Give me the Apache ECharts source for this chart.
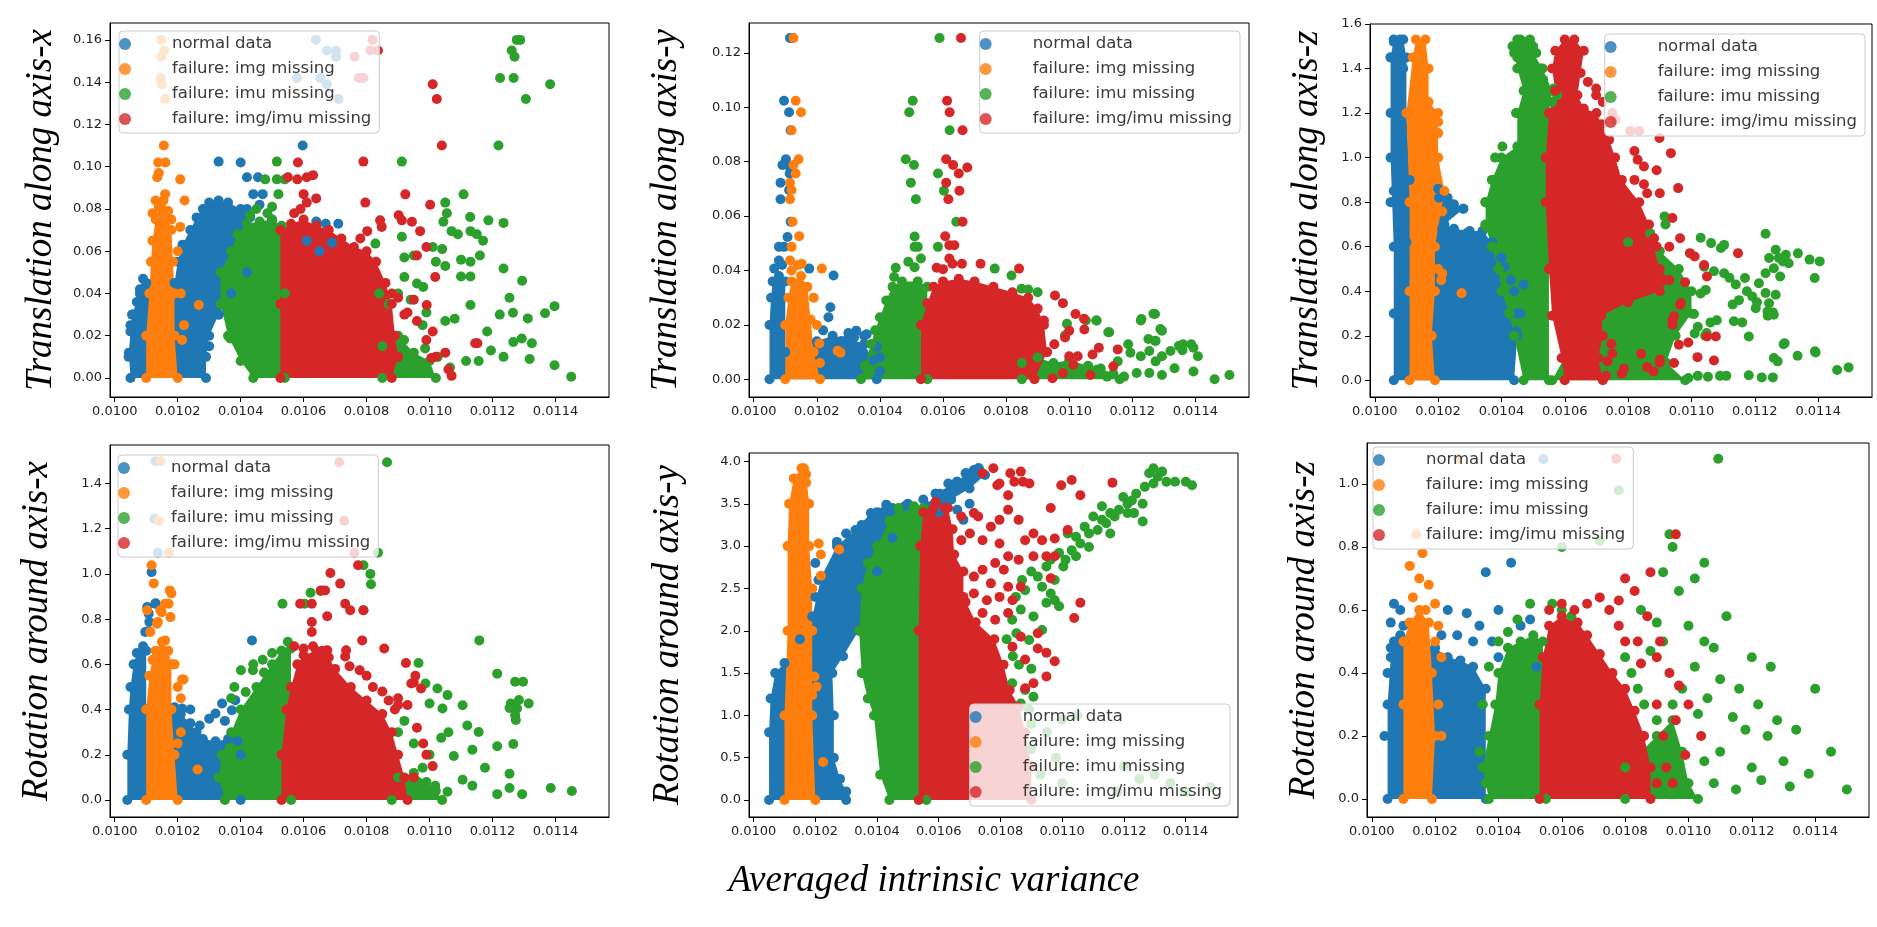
<!DOCTYPE html>
<html>
<head>
<meta charset="utf-8">
<script src="https://cdn.jsdelivr.net/npm/echarts@6/dist/echarts.min.js"></script>
<style>
html, body { margin: 0; padding: 0; background: #fff; }
#chart { width: 1877px; height: 927px; }
</style>
</head>
<body>
<div id="chart"></div>
<script>
var NAMES = ['normal data', 'failure: img missing', 'failure: imu missing', 'failure: img/imu missing'];
var COLORS = ['#1f77b4', '#ff7f0e', '#2ca02c', '#d62728'];
var X_TICKS = [0.0100, 0.0102, 0.0104, 0.0106, 0.0108, 0.0110, 0.0112, 0.0114];

// ---- translation along axis-x ----
var txTicks = [0, 0.02, 0.04, 0.06, 0.08, 0.10, 0.12, 0.14, 0.16];
var txNormalArea = [[[0.01005,0],[0.010045,0.012],[0.01005,0.022],[0.010055,0.03],[0.01007,0.036],[0.01008,0.042],[0.01009,0.047],[0.0101,0.045],[0.01019,0.045],[0.0102,0.055],[0.010215,0.063],[0.01024,0.07],[0.01026,0.076],[0.01028,0.08],[0.0103,0.083],[0.01033,0.084],[0.01036,0.083],[0.0104,0.08],[0.01043,0.076],[0.01042,0.05],[0.01037,0.04],[0.01033,0.03],[0.0103,0.02],[0.01029,0.01],[0.01029,0]]];
var txNormalPts = [[0.010044,0.01],[0.01005,0.025],[0.01006,0.03],[0.01008,0.04],[0.01033,0.1024],[0.0104,0.102],[0.01042,0.095],[0.010455,0.095],[0.01044,0.087],[0.01047,0.087],[0.01046,0.082],[0.01042,0.08],[0.01037,0.072],[0.0105,0.075],[0.010597,0.11],[0.01064,0.074],[0.01067,0.073],[0.01071,0.073],[0.01065,0.06],[0.01069,0.064],[0.01061,0.065],[0.0103,0.015],[0.01033,0.03],[0.010639,0.16],[0.010674,0.155],[0.010703,0.155],[0.010703,0.152],[0.010579,0.142],[0.010653,0.142],[0.010674,0.139],[0.010711,0.132]];
var txImgArea = [[[0.0101,0],[0.0101,0.02],[0.01011,0.04],[0.010115,0.055],[0.01012,0.065],[0.01013,0.075],[0.01014,0.081],[0.010155,0.084],[0.01017,0.079],[0.01018,0.07],[0.010185,0.055],[0.01019,0.04],[0.01019,0.02],[0.0102,0]]];
var txImgPts = [[0.010156,0.11],[0.010138,0.102],[0.010161,0.102],[0.010135,0.095],[0.01014,0.097],[0.010208,0.094],[0.01013,0.084],[0.01016,0.087],[0.010222,0.084],[0.010208,0.0715],[0.01012,0.078],[0.01018,0.075],[0.010267,0.0345],[0.010214,0.018],[0.01022,0.025],[0.01021,0.04],[0.0102,0.06],[0.010148,0.16],[0.010157,0.155],[0.010148,0.152],[0.010146,0.142],[0.01015,0.139],[0.01016,0.132]];
var txImuArea = [
  [[0.01044,0],[0.0104,0.008],[0.01036,0.02],[0.010336,0.035],[0.010336,0.05],[0.01037,0.06],[0.01039,0.068],[0.01042,0.073],[0.01046,0.074],[0.0105,0.075],[0.01053,0.072],[0.01054,0.04],[0.01054,0]],
  [[0.01085,0],[0.01085,0.015],[0.0109,0.02],[0.01095,0.012],[0.011,0.008],[0.01102,0]]
];
var txImuPts = [[0.010515,0.1024],[0.010478,0.094],[0.010515,0.094],[0.01054,0.094],[0.01052,0.087],[0.01045,0.08],[0.0105,0.081],[0.010485,0.078],[0.01043,0.077],[0.010912,0.1024],[0.011108,0.0869],[0.01105,0.083],[0.011055,0.078],[0.011129,0.0762],[0.011044,0.0739],[0.011187,0.0746],[0.011235,0.0734],[0.01107,0.0695],[0.01109,0.068],[0.01113,0.0695],[0.01115,0.068],[0.01117,0.065],[0.01101,0.062],[0.01104,0.061],[0.01092,0.057],[0.01095,0.058],[0.010912,0.0668],[0.010828,0.0636],[0.0111,0.056],[0.01113,0.055],[0.01116,0.058],[0.01102,0.055],[0.01105,0.053],[0.0111,0.048],[0.01113,0.048],[0.011235,0.0518],[0.01092,0.0478],[0.01096,0.0447],[0.01098,0.0431],[0.0109,0.04],[0.01094,0.037],[0.01099,0.031],[0.01105,0.027],[0.01108,0.028],[0.01113,0.0345],[0.01084,0.04],[0.01087,0.035],[0.011277,0.16],[0.011261,0.155],[0.01127,0.152],[0.011224,0.142],[0.011267,0.142],[0.011219,0.11],[0.011288,0.16],[0.011383,0.139],[0.011306,0.132],[0.011397,0.034],[0.011367,0.0306],[0.011312,0.0282],[0.011293,0.0187],[0.011325,0.0164],[0.010367,0.0187],[0.01145,0.0006],[0.011397,0.006],[0.011318,0.009],[0.011266,0.017],[0.011235,0.01],[0.011195,0.013],[0.011156,0.008],[0.011254,0.038],[0.011223,0.03],[0.011294,0.046],[0.011116,0.008],[0.011065,0.005],[0.011026,0.01],[0.010986,0.014],[0.010947,0.008],[0.010919,0.018],[0.010978,0.025],[0.011183,0.022],[0.011265,0.0309]];
var txBothArea = [[[0.010526,0],[0.010526,0.035],[0.010526,0.07],[0.01056,0.073],[0.0106,0.075],[0.01064,0.072],[0.01068,0.07],[0.01072,0.066],[0.01076,0.062],[0.0108,0.06],[0.01083,0.055],[0.01086,0.045],[0.01088,0.035],[0.01089,0.02],[0.0109,0.01],[0.01088,0]]];
var txBothPts = [[0.01101,0.139],[0.011023,0.132],[0.011039,0.11],[0.01079,0.1024],[0.010923,0.0869],[0.010796,0.083],[0.011002,0.082],[0.010902,0.077],[0.010912,0.0746],[0.010944,0.0739],[0.010843,0.0746],[0.010848,0.0715],[0.01097,0.0695],[0.01099,0.062],[0.01096,0.058],[0.010802,0.0695],[0.01078,0.066],[0.011018,0.0478],[0.010991,0.0345],[0.01095,0.037],[0.01093,0.031],[0.01088,0.04],[0.0109,0.038],[0.01092,0.03],[0.01096,0.027],[0.011145,0.0164],[0.010582,0.102],[0.01055,0.095],[0.01058,0.094],[0.01061,0.095],[0.01063,0.096],[0.0106,0.087],[0.01061,0.083],[0.01064,0.085],[0.01057,0.078],[0.01059,0.08],[0.01099,0.018],[0.01102,0.01],[0.01106,0.004],[0.01101,0.022],[0.01105,0.012],[0.011152,0.0164],[0.011006,0.0095],[0.01107,0.001],[0.010819,0.16],[0.010762,0.152],[0.010812,0.155],[0.010836,0.155],[0.010775,0.142],[0.01079,0.142]];

// ---- translation along axis-y ----
var tyTicks = [0, 0.02, 0.04, 0.06, 0.08, 0.10, 0.12];
var tyNormalArea = [[[0.01005,0],[0.01005,0.02],[0.010055,0.03],[0.01006,0.036],[0.01008,0.038],[0.0101,0.036],[0.0101,0.01],[0.0102,0.014],[0.01025,0.016],[0.0103,0.015],[0.01035,0.013],[0.01038,0.007],[0.01039,0]]];
var tyNormalPts = [[0.010115,0.1255],[0.010123,0.1255],[0.010096,0.1024],[0.010112,0.0982],[0.010117,0.0916],[0.010102,0.0809],[0.010091,0.0788],[0.010114,0.078],[0.010114,0.0757],[0.010085,0.0723],[0.010112,0.0696],[0.010085,0.0662],[0.010117,0.0579],[0.010107,0.0523],[0.01008,0.0487],[0.010096,0.0487],[0.01008,0.0437],[0.010065,0.0407],[0.01009,0.042],[0.010176,0.0407],[0.010253,0.0382],[0.010243,0.0265],[0.010237,0.0228],[0.010278,0.0141],[0.010325,0.0179],[0.010358,0.0166],[0.010318,0.0154],[0.01022,0.018],[0.0103,0.017],[0.01035,0.016],[0.01039,0.012],[0.0104,0.008],[0.0104,0.003]];
var tyImgArea = [[[0.0101,0],[0.0101,0.02],[0.01011,0.03],[0.01012,0.036],[0.01015,0.038],[0.01017,0.034],[0.01018,0.022],[0.01019,0.01],[0.01021,0]]];
var tyImgPts = [[0.010126,0.1255],[0.010133,0.1024],[0.01015,0.0982],[0.01012,0.0916],[0.010142,0.0809],[0.010126,0.0788],[0.010133,0.0757],[0.010115,0.0723],[0.01012,0.0696],[0.010115,0.0662],[0.010123,0.0579],[0.010144,0.0526],[0.01012,0.0487],[0.010115,0.0437],[0.010152,0.0425],[0.010216,0.0407],[0.010208,0.0132],[0.010266,0.0105],[0.010275,0.0098],[0.01012,0.04],[0.01014,0.042],[0.01019,0.03],[0.0102,0.02],[0.01021,0.006]];
var tyImuArea = [
  [[0.01034,0],[0.010352,0.005],[0.010372,0.013],[0.010385,0.018],[0.0104,0.0228],[0.01042,0.029],[0.01044,0.034],[0.01047,0.036],[0.01052,0.036],[0.01055,0.034],[0.01055,0]],
  [[0.01085,0],[0.01085,0.006],[0.0109,0.008],[0.01095,0.006],[0.011,0.007],[0.01106,0.005],[0.0111,0.004],[0.01114,0.002],[0.01116,0]]
];
var tyImuPts = [[0.010589,0.1255],[0.010504,0.1024],[0.010493,0.0982],[0.010621,0.0916],[0.010482,0.0809],[0.010508,0.0788],[0.010498,0.0723],[0.010514,0.0662],[0.010584,0.0757],[0.010603,0.0693],[0.010642,0.0579],[0.01051,0.0525],[0.01051,0.0487],[0.01052,0.0487],[0.010584,0.0487],[0.01045,0.041],[0.010445,0.0376],[0.01049,0.0432],[0.01051,0.0412],[0.01053,0.0444],[0.010764,0.0407],[0.010817,0.0382],[0.010849,0.0333],[0.01087,0.033],[0.0109,0.032],[0.011086,0.0216],[0.011124,0.0173],[0.011229,0.0222],[0.011272,0.024],[0.011289,0.0185],[0.011251,0.0148],[0.011272,0.0142],[0.011387,0.0129],[0.011359,0.0107],[0.010987,0.0162],[0.010993,0.0204],[0.011053,0.0216],[0.011087,0.0216],[0.011127,0.0173],[0.011194,0.0098],[0.011227,0.0085],[0.011254,0.0104],[0.011274,0.0066],[0.011294,0.0085],[0.011321,0.0104],[0.011348,0.0123],[0.011361,0.0129],[0.011394,0.0116],[0.011408,0.0085],[0.011334,0.0041],[0.011394,0.0029],[0.011461,0],[0.011508,0.0016],[0.011227,0.0216],[0.011267,0.0241],[0.011294,0.0179],[0.011274,0.0141],[0.011187,0.0129],[0.011154,0.0066],[0.011174,0.001],[0.011214,0.0023],[0.011254,0.0023],[0.011294,0.0016],[0.011087,0.0035],[0.01112,0.001]];
var tyBothArea = [[[0.01053,0],[0.01053,0.02],[0.01055,0.028],[0.01057,0.034],[0.0106,0.036],[0.01065,0.037],[0.0107,0.036],[0.01076,0.034],[0.01082,0.032],[0.01087,0.03],[0.0109,0.026],[0.01092,0.02],[0.01093,0.01],[0.01089,0]]];
var tyBothPts = [[0.010657,0.1255],[0.010613,0.1024],[0.010621,0.0982],[0.010662,0.0916],[0.01061,0.0809],[0.010632,0.0788],[0.01065,0.0757],[0.010677,0.0779],[0.01061,0.0723],[0.010652,0.0693],[0.010617,0.0662],[0.010662,0.0579],[0.010607,0.0526],[0.01062,0.0493],[0.010636,0.0493],[0.010719,0.0425],[0.010841,0.0407],[0.01058,0.041],[0.0106,0.0405],[0.01062,0.0444],[0.01063,0.0425],[0.01066,0.0425],[0.010955,0.0308],[0.01098,0.028],[0.01102,0.024],[0.011048,0.0183],[0.01114,0.0048],[0.010947,0.0004],[0.01098,0.0023],[0.0110,0.0085],[0.011027,0.0085],[0.011013,0.0054],[0.011047,0.0223],[0.011074,0.0091],[0.011094,0.0116],[0.011154,0.011],[0.011067,0.0016],[0.010953,0.0129],[0.010987,0.0154],[0.0110,0.0179],[0.010906,0.0173],[0.01092,0.0216]];

// ---- translation along axis-z ----
var tzTicks = [0, 0.2, 0.4, 0.6, 0.8, 1.0, 1.2, 1.4, 1.6];
var tzNormalArea = [[[0.01006,0],[0.01006,0.3],[0.01006,0.6],[0.010055,0.8],[0.01005,1.0],[0.01005,1.2],[0.01005,1.45],[0.01006,1.53],[0.01009,1.53],[0.0101,1.45],[0.0101,1.2],[0.01011,0.9],[0.0102,0.86],[0.01023,0.82],[0.01025,0.79],[0.01028,0.77],[0.01022,0.7],[0.01025,0.68],[0.0103,0.67],[0.01034,0.67],[0.01037,0.62],[0.0104,0.55],[0.01043,0.45],[0.01045,0.3],[0.01045,0.2],[0.01044,0]]];
var tzNormalPts = [[0.010203,0.82],[0.010247,0.79],[0.010279,0.77],[0.010213,0.68],[0.01025,0.67],[0.01029,0.66],[0.010371,0.616],[0.0104,0.55],[0.01041,0.51],[0.010355,0.25],[0.010386,0.23],[0.010448,0.22],[0.01043,0.19],[0.01046,0.3],[0.01044,0.4],[0.01047,0.43],[0.01006,1.52],[0.01008,1.53],[0.01005,1.45],[0.01009,1.4],[0.01005,0.8],[0.01006,0.85],[0.0101,0.62]];
var tzImgArea = [[[0.01011,0],[0.01011,0.4],[0.01011,0.8],[0.0101,1.2],[0.01012,1.45],[0.01013,1.53],[0.01016,1.53],[0.01017,1.4],[0.01017,1.25],[0.0102,1.2],[0.0102,1.0],[0.01022,0.85],[0.01019,0.6],[0.01019,0.4],[0.01018,0.2],[0.01019,0]]];
var tzImgPts = [[0.010213,0.758],[0.010274,0.391],[0.010213,0.48],[0.0102,1.16],[0.0102,1.11],[0.0102,0.5],[0.01021,0.45]];
var tzImuArea = [
  [[0.01047,0],[0.01044,0.2],[0.010425,0.3],[0.0104,0.4],[0.01039,0.5],[0.01037,0.6],[0.01035,0.69],[0.01035,0.8],[0.01037,0.9],[0.0104,1.0],[0.01045,1.05],[0.01045,1.2],[0.01047,1.3],[0.01045,1.4],[0.01044,1.47],[0.01045,1.53],[0.01049,1.53],[0.0105,1.47],[0.01053,1.4],[0.01056,1.3],[0.01055,1.2],[0.01055,0]],
  [[0.01056,0],[0.0108,0.62],[0.01087,0.66],[0.0109,0.58],[0.01096,0.5],[0.011,0.4],[0.011,0.3],[0.01095,0.2],[0.01092,0.08],[0.01098,0]]
];
var tzImuPts = [[0.010435,1.5],[0.01046,1.53],[0.01048,1.52],[0.0105,1.5],[0.01051,1.47],[0.01045,1.45],[0.010473,1.398],[0.01052,1.4],[0.010532,1.35],[0.010565,1.31],[0.010576,1.28],[0.01056,1.25],[0.010446,1.2],[0.010403,1.05],[0.01038,1.0],[0.010371,0.9],[0.010349,0.8],[0.010349,0.7],[0.010371,0.6],[0.010392,0.5],[0.010403,0.4],[0.010425,0.3],[0.010441,0.2],[0.010915,0.736],[0.010918,0.7],[0.011029,0.64],[0.011062,0.616],[0.011093,0.594],[0.011103,0.608],[0.011234,0.658],[0.011266,0.586],[0.011276,0.549],[0.011298,0.564],[0.011307,0.526],[0.011336,0.57],[0.011289,0.534],[0.011373,0.542],[0.011405,0.534],[0.011389,0.459],[0.011245,0.549],[0.011234,0.481],[0.01126,0.503],[0.01128,0.466],[0.011169,0.459],[0.011213,0.436],[0.011175,0.4],[0.011103,0.481],[0.01104,0.51],[0.011071,0.49],[0.01112,0.46],[0.01114,0.43],[0.011029,0.39],[0.011045,0.406],[0.011234,0.392],[0.011266,0.384],[0.011245,0.346],[0.011192,0.376],[0.01115,0.36],[0.01113,0.34],[0.011203,0.324],[0.01124,0.309],[0.01126,0.294],[0.011181,0.197],[0.011048,0.212],[0.01101,0.21],[0.01102,0.24],[0.01108,0.27],[0.011294,0.166],[0.01139,0.13],[0.011008,0.298],[0.01106,0.26],[0.011043,0.2],[0.011134,0.265],[0.01116,0.26],[0.011241,0.29],[0.011257,0.305],[0.011207,0.35],[0.011291,0.162],[0.011335,0.11],[0.01126,0.1],[0.011272,0.085],[0.011392,0.125],[0.01146,0.046],[0.011496,0.058],[0.011052,0.016],[0.01109,0.02],[0.01111,0.02],[0.011181,0.023],[0.011222,0.013],[0.011257,0.013],[0.01099,0.01],[0.01102,0.02]];
var tzBothArea = [[[0.0106,0],[0.01059,0.1],[0.01056,0.29],[0.01055,0.5],[0.01054,0.8],[0.01054,1.0],[0.01055,1.2],[0.01057,1.3],[0.01056,1.4],[0.01057,1.48],[0.0106,1.53],[0.01063,1.53],[0.01066,1.48],[0.01065,1.38],[0.01064,1.28],[0.01066,1.22],[0.0107,1.2],[0.010716,1.15],[0.01074,1.08],[0.010759,1.0],[0.01078,0.9],[0.010835,0.8],[0.010866,0.7],[0.01088,0.6],[0.0109,0.5],[0.01093,0.45],[0.0109,0.4],[0.0108,0.35],[0.010715,0.29],[0.01072,0.2],[0.010705,0.1],[0.01072,0]]];
var tzBothPts = [[0.010673,1.34],[0.010699,1.31],[0.010699,1.28],[0.01072,1.25],[0.01075,1.2],[0.01076,1.17],[0.010807,1.12],[0.010835,1.12],[0.010899,1.088],[0.010935,1.02],[0.01082,1.03],[0.01083,0.99],[0.01085,0.96],[0.01089,0.943],[0.01082,0.9],[0.01085,0.88],[0.01086,0.84],[0.0109,0.84],[0.010958,0.863],[0.01094,0.729],[0.011147,0.571],[0.010882,0.638],[0.01089,0.6],[0.01093,0.6],[0.010964,0.638],[0.010995,0.571],[0.01101,0.556],[0.01104,0.518],[0.011049,0.466],[0.01098,0.44],[0.010964,0.339],[0.01094,0.271],[0.011077,0.197],[0.010967,0.347],[0.010945,0.288],[0.01094,0.25],[0.011049,0.197],[0.01096,0.16],[0.01099,0.17],[0.011019,0.104],[0.011071,0.089],[0.0109,0.092],[0.0109,0.08],[0.010841,0.119],[0.010747,0.164],[0.01075,0.12],[0.010735,0.086],[0.010787,0.053],[0.01086,0.06],[0.01088,0.04],[0.010945,0.078],[0.01073,0.02],[0.01078,0.03]];

// ---- rotation around axis-x ----
var rxTicks = [0, 0.2, 0.4, 0.6, 0.8, 1.0, 1.2, 1.4];
var rxNormalArea = [[[0.01004,0],[0.01004,0.2],[0.010045,0.4],[0.01005,0.5],[0.01006,0.6],[0.01007,0.65],[0.01009,0.68],[0.0101,0.66],[0.0101,0.4],[0.01019,0.41],[0.01021,0.38],[0.01024,0.34],[0.01026,0.3],[0.01028,0.27],[0.01032,0.26],[0.01036,0.27],[0.01039,0.26],[0.0104,0.2],[0.0104,0]]];
var rxNormalPts = [[0.010103,0.854],[0.010108,0.824],[0.010129,0.868],[0.010097,0.743],[0.010436,0.706],[0.010117,1.008],[0.01013,0.87],[0.01011,0.787],[0.010106,0.746],[0.01032,0.383],[0.010341,0.427],[0.010372,0.397],[0.010383,0.441],[0.010214,0.405],[0.01024,0.4],[0.01027,0.33],[0.0103,0.36],[0.01035,0.35],[0.01013,1.498],[0.010126,1.244],[0.010137,1.094]];
var rxImgArea = [[[0.0101,0],[0.0101,0.4],[0.01011,0.55],[0.01012,0.62],[0.01013,0.66],[0.01015,0.7],[0.01017,0.66],[0.01018,0.6],[0.01018,0.4],[0.01019,0.2],[0.0102,0]]];
var rxImgPts = [[0.01016,0.706],[0.010113,0.743],[0.010134,0.78],[0.01016,0.868],[0.010177,0.809],[0.010145,0.839],[0.010103,0.839],[0.010171,0.868],[0.010214,0.533],[0.010263,0.135],[0.010117,1.038],[0.010124,0.958],[0.010149,0.831],[0.010137,0.787],[0.010175,0.927],[0.01018,0.914],[0.010219,0.533],[0.01019,0.6],[0.0102,0.5],[0.01021,0.45],[0.01021,0.3],[0.0102,0.25],[0.010146,1.498],[0.01014,1.235],[0.010172,1.094]];
var rxImuArea = [
  [[0.01035,0],[0.01033,0.1],[0.01034,0.2],[0.01037,0.3],[0.0104,0.4],[0.01045,0.5],[0.0105,0.6],[0.01053,0.66],[0.01056,0.67],[0.01056,0]],
  [[0.01088,0],[0.0109,0.1],[0.01095,0.12],[0.01099,0.08],[0.01102,0.04],[0.01104,0]]
];
var rxImuPts = [[0.010865,1.494],[0.010836,1.094],[0.01079,1.038],[0.010812,1.0],[0.010814,0.954],[0.01079,0.839],[0.010622,0.917],[0.010654,0.924],[0.010603,0.868],[0.010533,0.868],[0.010401,0.574],[0.010439,0.574],[0.010416,0.478],[0.010474,0.564],[0.010502,0.53],[0.010965,0.606],[0.011158,0.706],[0.011215,0.559],[0.011272,0.523],[0.011297,0.523],[0.010987,0.515],[0.011025,0.493],[0.011057,0.464],[0.011,0.427],[0.011041,0.405],[0.011105,0.419],[0.011258,0.427],[0.011284,0.442],[0.011315,0.427],[0.011272,0.375],[0.011278,0.405],[0.011452,0.04],[0.011385,0.053],[0.011294,0.026],[0.011254,0.053],[0.011215,0.026],[0.011254,0.116],[0.011266,0.248],[0.011274,0.354],[0.011254,0.407],[0.011176,0.143],[0.011136,0.063],[0.011105,0.09],[0.011057,0.037],[0.011018,0.063],[0.011077,0.195],[0.011037,0.275],[0.010978,0.143],[0.011156,0.301],[0.011215,0.238],[0.011136,0.222],[0.0110,0.2],[0.01095,0.25],[0.01106,0.3],[0.01112,0.33],[0.0109,0.3],[0.01092,0.35],[0.01044,0.6],[0.01047,0.62],[0.0105,0.65],[0.01053,0.66],[0.01055,0.7],[0.01037,0.45],[0.01038,0.5]];
var rxBothArea = [[[0.01053,0],[0.01053,0.2],[0.010545,0.4],[0.01056,0.5],[0.01058,0.6],[0.0106,0.64],[0.01064,0.66],[0.01068,0.63],[0.0107,0.58],[0.01075,0.5],[0.0108,0.44],[0.01085,0.38],[0.01088,0.3],[0.0109,0.2],[0.01092,0.1],[0.01093,0]]];
var rxBothPts = [[0.010713,1.494],[0.010729,1.235],[0.010761,1.094],[0.010773,1.038],[0.010685,1.004],[0.010716,0.957],[0.010655,0.927],[0.010668,0.927],[0.010589,0.868],[0.010626,0.868],[0.010732,0.868],[0.010748,0.839],[0.01079,0.839],[0.010626,0.787],[0.010675,0.813],[0.010626,0.743],[0.010786,0.706],[0.010856,0.67],[0.010925,0.606],[0.010942,0.515],[0.010973,0.493],[0.01095,0.52],[0.010955,0.55],[0.0109,0.45],[0.0109,0.42],[0.01093,0.42],[0.01087,0.44],[0.01089,0.4],[0.010778,0.574],[0.010732,0.635],[0.010746,0.592],[0.010675,0.662],[0.010735,0.662],[0.01057,0.68],[0.0106,0.67],[0.01063,0.68],[0.01066,0.66],[0.0108,0.55],[0.01082,0.5],[0.01085,0.48],[0.01096,0.32],[0.01098,0.25],[0.01099,0.2],[0.01101,0.15],[0.01095,0.1]];

// ---- rotation around axis-y ----
var ryTicks = [0, 0.5, 1.0, 1.5, 2.0, 2.5, 3.0, 3.5, 4.0];
var ryNormalArea = [[[0.01005,0],[0.01005,0.8],[0.010055,1.2],[0.01007,1.5],[0.0101,1.62],[0.01015,1.9],[0.01019,2.17],[0.01022,2.64],[0.01027,3.0],[0.01033,3.19],[0.01038,3.39],[0.01043,3.49],[0.01049,3.47],[0.01056,3.47],[0.01059,3.62],[0.01066,3.76],[0.01069,3.86],[0.01073,3.92],[0.01075,3.84],[0.0107,3.68],[0.01064,3.55],[0.0106,3.4],[0.01045,3.1],[0.0104,2.7],[0.01034,2.0],[0.01029,1.7],[0.010255,1.5],[0.01026,1.0],[0.01026,0.5],[0.01028,0.25],[0.0103,0.1],[0.0103,0]]];
var ryNormalPts = [[0.010563,3.47],[0.01059,3.62],[0.010604,3.62],[0.010631,3.74],[0.010659,3.76],[0.010687,3.86],[0.010714,3.9],[0.010728,3.92],[0.01066,3.43],[0.01068,3.31],[0.0107,3.5],[0.01064,3.55],[0.01061,3.5],[0.01055,3.55],[0.0105,3.5],[0.01045,3.45],[0.0104,3.4],[0.01035,3.25],[0.0103,3.15],[0.01027,3.05],[0.0102,2.8],[0.01021,2.6],[0.0102,2.4]];
var ryImgArea = [[[0.0101,0],[0.0101,1.0],[0.01011,2.0],[0.01011,3.0],[0.010115,3.5],[0.01013,3.8],[0.010155,3.92],[0.01017,3.85],[0.01018,3.5],[0.01018,3.0],[0.01019,2.5],[0.01019,2.0],[0.01019,1.0],[0.0102,0]]];
var ryImgPts = [[0.010163,3.92],[0.01015,3.75],[0.01017,3.75],[0.010211,3.03],[0.010218,2.9],[0.010277,2.96],[0.010218,2.65],[0.010197,1.46],[0.010204,1.34],[0.01019,1.24],[0.010225,0.45]];
var ryImuArea = [[[0.01044,0],[0.01041,0.3],[0.01039,1.0],[0.01037,1.2],[0.01035,1.5],[0.010342,2.0],[0.01035,2.5],[0.01037,2.8],[0.0104,3.0],[0.01044,3.3],[0.01047,3.45],[0.01052,3.47],[0.01055,3.45],[0.01056,0]]];
var ryImuPts = [[0.01099,2.92],[0.011004,2.76],[0.010963,2.84],[0.010949,2.76],[0.010976,2.6],[0.011031,2.95],[0.011018,3.15],[0.011045,3.11],[0.011073,3.23],[0.011101,3.35],[0.011129,3.31],[0.011156,3.39],[0.011184,3.43],[0.011212,3.39],[0.011226,3.54],[0.01124,3.62],[0.011261,3.5],[0.011261,3.29],[0.011198,3.58],[0.011282,3.86],[0.011296,3.92],[0.01131,3.82],[0.011324,3.88],[0.011338,3.76],[0.011296,3.74],[0.011268,3.7],[0.011366,3.76],[0.011401,3.76],[0.011421,3.72],[0.011087,3.15],[0.011115,3.19],[0.011143,3.27],[0.01117,3.35],[0.011059,3.03],[0.011087,2.99],[0.011011,2.84],[0.011045,2.88],[0.011129,3.47],[0.011156,3.15],[0.011212,3.5],[0.011233,3.39],[0.01088,2.48],[0.010935,2.52],[0.010963,2.44],[0.010976,2.36],[0.01099,2.29],[0.010921,2.64],[0.010949,2.33],[0.010907,2.17],[0.010866,2.25],[0.010838,2.13],[0.010852,1.97],[0.010893,1.89],[0.010935,2.01],[0.010838,1.38],[0.01088,1.3],[0.010907,1.22],[0.010866,1.14],[0.010893,1.07],[0.01082,1.9],[0.01084,1.7],[0.01086,1.6],[0.0109,1.55],[0.01085,2.4],[0.0109,2.7],[0.01087,2.6],[0.0109,0.9],[0.01095,0.8],[0.0110,0.95],[0.01105,1.0],[0.0109,0.6],[0.01098,0.5],[0.01093,0.3],[0.0110,0.2],[0.0112,0.4],[0.01125,0.25],[0.0113,0.3],[0.01135,0.2],[0.0114,0.1],[0.01148,0.15],[0.01118,0.1]];
var ryBothArea = [[[0.010535,0],[0.010535,2.0],[0.01054,3.0],[0.01055,3.4],[0.01059,3.52],[0.01063,3.45],[0.010645,3.2],[0.01065,2.9],[0.01068,2.7],[0.01068,2.4],[0.01072,2.1],[0.01078,1.9],[0.01081,1.6],[0.01083,1.3],[0.01086,1.1],[0.01088,0.8],[0.0109,0.4],[0.0109,0]]];
var ryBothPts = [[0.010742,3.86],[0.010777,3.92],[0.01079,3.72],[0.010797,3.74],[0.010832,3.86],[0.010866,3.88],[0.010873,3.76],[0.010845,3.76],[0.010825,3.6],[0.010894,3.74],[0.010997,3.72],[0.011031,3.78],[0.011059,3.6],[0.011163,3.75],[0.010963,3.45],[0.011018,3.19],[0.010976,3.09],[0.011059,2.33],[0.011039,2.15],[0.010976,1.64],[0.010949,1.46],[0.010907,1.38],[0.01088,1.32],[0.010921,1.79],[0.010949,1.74],[0.010963,2.62],[0.010976,2.88],[0.010949,2.88],[0.010907,2.88],[0.01088,3.07],[0.010907,3.15],[0.010935,3.07],[0.010859,3.31],[0.010825,3.43],[0.010797,3.31],[0.010769,3.23],[0.010728,3.35],[0.010714,3.39],[0.010701,3.15],[0.010742,3.07],[0.010797,3.03],[0.010825,2.88],[0.010859,2.84],[0.010811,2.72],[0.010783,2.8],[0.010742,2.72],[0.010714,2.64],[0.010769,2.56],[0.010825,2.52],[0.010866,2.52],[0.010797,2.4],[0.010839,2.36],[0.010756,2.36],[0.010714,2.44],[0.010687,2.34],[0.010742,2.21],[0.010783,2.13],[0.010825,2.21],[0.010866,1.93],[0.010839,1.81],[0.01088,1.66],[0.010921,1.97],[0.010673,3.07],[0.010673,3.35],[0.01059,3.5],[0.01062,3.45],[0.01058,3.43]];

// ---- rotation around axis-z ----
var rzTicks = [0, 0.2, 0.4, 0.6, 0.8, 1.0];
var rzNormalArea = [[[0.01005,0],[0.01005,0.3],[0.01006,0.45],[0.01007,0.5],[0.01009,0.52],[0.0101,0.5],[0.0102,0.48],[0.01024,0.45],[0.01028,0.44],[0.01032,0.42],[0.01036,0.35],[0.01036,0]]];
var rzNormalPts = [[0.010542,1.079],[0.01007,0.62],[0.01009,0.6],[0.01006,0.56],[0.0101,0.55],[0.01024,0.6],[0.0103,0.59],[0.01034,0.55],[0.0104,0.6],[0.01044,0.75],[0.01036,0.72],[0.01027,0.52],[0.01032,0.5],[0.01022,0.52],[0.01038,0.5],[0.0104,0.45],[0.01047,0.55],[0.0105,0.57],[0.01052,0.42],[0.01005,0.4],[0.01004,0.2],[0.01006,0.48],[0.0103,0.35],[0.01035,0.3]];
var rzImgArea = [[[0.0101,0],[0.0101,0.3],[0.0101,0.5],[0.01012,0.56],[0.01015,0.6],[0.01018,0.56],[0.01019,0.4],[0.0102,0.2],[0.01019,0]]];
var rzImgPts = [[0.01014,0.84],[0.01016,0.78],[0.01012,0.74],[0.01015,0.7],[0.01018,0.68],[0.01013,0.64],[0.0102,0.62],[0.01017,0.6],[0.01021,0.55],[0.0102,0.5],[0.01022,0.45],[0.01021,0.3],[0.01022,0.2],[0.010272,1.079]];
var rzImuArea = [
  [[0.01037,0],[0.01035,0.1],[0.01037,0.2],[0.01039,0.3],[0.0104,0.4],[0.01043,0.48],[0.01047,0.5],[0.01051,0.52],[0.01054,0.5],[0.01055,0]],
  [[0.0108,0],[0.0108,0.1],[0.0109,0.2],[0.01095,0.25],[0.01098,0.15],[0.011,0.05],[0.01103,0]]
];
var rzImuPts = [[0.011094,1.08],[0.01094,0.84],[0.01095,0.8],[0.01092,0.72],[0.01105,0.75],[0.01102,0.7],[0.01097,0.66],[0.01057,0.62],[0.0106,0.6],[0.01063,0.58],[0.0105,0.62],[0.01046,0.57],[0.01043,0.53],[0.0104,0.5],[0.01037,0.42],[0.01035,0.3],[0.01034,0.15],[0.01036,0.05],[0.01085,0.6],[0.0109,0.56],[0.01092,0.5],[0.01088,0.47],[0.011,0.55],[0.01105,0.5],[0.01108,0.48],[0.01112,0.58],[0.0112,0.45],[0.01102,0.42],[0.0111,0.38],[0.01116,0.35],[0.01122,0.3],[0.01128,0.25],[0.01134,0.22],[0.01125,0.2],[0.01118,0.22],[0.0114,0.35],[0.01126,0.42],[0.01145,0.15],[0.0115,0.03],[0.01138,0.08],[0.0113,0.12],[0.0112,0.1],[0.0111,0.15],[0.01105,0.12],[0.01108,0.05],[0.01115,0.03],[0.01123,0.06],[0.01132,0.04],[0.011,0.02],[0.01096,0.06],[0.01103,0.27],[0.01106,0.32],[0.01114,0.26],[0.01098,0.35],[0.01095,0.3],[0.0109,0.25],[0.01086,0.3],[0.01084,0.35],[0.01082,0.4],[0.0108,0.45],[0.01072,0.82],[0.0106,0.8],[0.01078,0.98]];
var rzBothArea = [[[0.01053,0],[0.01053,0.3],[0.01054,0.45],[0.01056,0.55],[0.0106,0.58],[0.01065,0.56],[0.01068,0.52],[0.01072,0.46],[0.01076,0.4],[0.0108,0.35],[0.01083,0.28],[0.01086,0.2],[0.01088,0.1],[0.01088,0]]];
var rzBothPts = [[0.010772,1.08],[0.01096,0.84],[0.01088,0.72],[0.0108,0.7],[0.01083,0.66],[0.01078,0.63],[0.01075,0.6],[0.01072,0.64],[0.01068,0.62],[0.01087,0.58],[0.01091,0.5],[0.0109,0.45],[0.01094,0.4],[0.01097,0.36],[0.011,0.3],[0.01096,0.25],[0.01104,0.2],[0.01099,0.14],[0.01093,0.1],[0.01056,0.6],[0.0106,0.62],[0.01064,0.6],[0.01084,0.5],[0.0108,0.5],[0.01078,0.55],[0.01085,0.43],[0.0109,0.3],[0.01092,0.2],[0.0109,0.05],[0.01095,0.05]];

var panels = [
  { yName: 'Translation along axis-x', grid: { left: 110, top: 23, width: 499, height: 374 }, yMin: -0.009, yMax: 0.168, ticks: txTicks, digits: 2, nameGap: 50,
    legend: { left: 119, top: 31 },
    groups: [[txNormalArea, txNormalPts], [txImgArea, txImgPts], [txImuArea, txImuPts], [txBothArea, txBothPts]] },
  { yName: 'Translation along axis-y', grid: { left: 749, top: 23, width: 500, height: 374 }, yMin: -0.0065, yMax: 0.131, ticks: tyTicks, digits: 2, nameGap: 64,
    legend: { right: 637, top: 31 },
    groups: [[tyNormalArea, tyNormalPts], [tyImgArea, tyImgPts], [tyImuArea, tyImuPts], [tyBothArea, tyBothPts]] },
  { yName: 'Translation along axis-z', grid: { left: 1370, top: 24, width: 502, height: 373 }, yMin: -0.075, yMax: 1.6, ticks: tzTicks, digits: 1, nameGap: 44,
    legend: { right: 12, top: 34 },
    groups: [[tzNormalArea, tzNormalPts], [tzImgArea, tzImgPts], [tzImuArea, tzImuPts], [tzBothArea, tzBothPts]] },
  { yName: 'Rotation around axis-x', grid: { left: 110, top: 445, width: 499, height: 372 }, yMin: -0.075, yMax: 1.57, ticks: rxTicks, digits: 1, nameGap: 54,
    legend: { left: 118, top: 455 },
    groups: [[rxNormalArea, rxNormalPts], [rxImgArea, rxImgPts], [rxImuArea, rxImuPts], [rxBothArea, rxBothPts]] },
  { yName: 'Rotation around axis-y', grid: { left: 749, top: 453, width: 489, height: 364 }, yMin: -0.2, yMax: 4.1, ticks: ryTicks, digits: 1, nameGap: 62,
    legend: { right: 647, bottom: 121 },
    groups: [[ryNormalArea, ryNormalPts], [ryImgArea, ryImgPts], [ryImuArea, ryImuPts], [ryBothArea, ryBothPts]] },
  { yName: 'Rotation around axis-z', grid: { left: 1367, top: 443, width: 502, height: 374 }, yMin: -0.057, yMax: 1.13, ticks: rzTicks, digits: 1, nameGap: 44,
    legend: { left: 1373, top: 447 },
    groups: [[rzNormalArea, rzNormalPts], [rzImgArea, rzImgPts], [rzImuArea, rzImuPts], [rzBothArea, rzBothPts]] }
];

var tickFont = { fontFamily: 'DejaVu Sans', fontSize: 13, color: '#222' };
var grids = [], xAxes = [], yAxes = [], legends = [], series = [];

panels.forEach(function (p, i) {
  grids.push(Object.assign({ show: true, borderColor: '#000', borderWidth: 1, containLabel: false }, p.grid));
  xAxes.push({
    type: 'value', gridIndex: i, min: 0.009985, max: 0.01157,
    axisLine: { show: true, onZero: false, lineStyle: { color: '#000' } },
    axisTick: { show: true, length: 5, customValues: X_TICKS, lineStyle: { color: '#000' } },
    axisLabel: Object.assign({ customValues: X_TICKS, margin: 8, formatter: function (v) { return v.toFixed(4); } }, tickFont),
    splitLine: { show: false }
  });
  yAxes.push({
    type: 'value', gridIndex: i, min: p.yMin, max: p.yMax,
    name: p.yName, nameLocation: 'middle', nameRotate: 90, nameGap: p.nameGap,
    nameTextStyle: { fontFamily: 'Liberation Serif', fontStyle: 'italic', fontSize: 37, color: '#000' },
    axisLine: { show: true, onZero: false, lineStyle: { color: '#000' } },
    axisTick: { show: true, length: 5, customValues: p.ticks, lineStyle: { color: '#000' } },
    axisLabel: Object.assign({ customValues: p.ticks, margin: 8, formatter: function (v) { return v.toFixed(p.digits); } }, tickFont),
    splitLine: { show: false }
  });
  legends.push(Object.assign({
    orient: 'vertical', icon: 'circle', itemWidth: 50, itemHeight: 12, itemGap: 7,
    selectedMode: false,
    backgroundColor: 'rgba(255,255,255,0.8)', borderColor: '#cccccc', borderWidth: 1, borderRadius: 4,
    padding: [4, 8, 5, 0],
    textStyle: { fontFamily: 'DejaVu Sans', fontSize: 16.5, lineHeight: 18, color: '#3a3a3a', padding: [0, 0, 0, 17] },
    data: NAMES.map(function (n, c) { return { name: n, itemStyle: { color: COLORS[c], opacity: 0.8 } }; })
  }, p.legend));

  p.groups.forEach(function (g, c) {
    var areas = g[0], pts = g[1];
    areas.forEach(function (poly) {
      series.push({
        type: 'custom', name: NAMES[c], coordinateSystem: 'cartesian2d',
        xAxisIndex: i, yAxisIndex: i, silent: true,
        itemStyle: { color: COLORS[c] },
        data: [poly[0]],
        renderItem: function (params, api) {
          return {
            type: 'polygon',
            shape: { points: poly.map(function (q) { return api.coord(q); }) },
            style: { fill: COLORS[c] }
          };
        }
      });
    });
    var dots = [];
    areas.forEach(function (poly) { dots = dots.concat(poly); });
    series.push({
      type: 'scatter', name: NAMES[c], xAxisIndex: i, yAxisIndex: i, silent: true,
      symbol: 'circle', symbolSize: 10,
      itemStyle: { color: COLORS[c], opacity: 1 },
      data: dots.concat(pts)
    });
  });
});

var chart = echarts.init(document.getElementById('chart'));
chart.setOption({
  animation: false,
  backgroundColor: '#fff',
  grid: grids, xAxis: xAxes, yAxis: yAxes, legend: legends, series: series,
  graphic: [{
    type: 'text', x: 934, y: 881,
    style: { text: 'Averaged intrinsic variance', fill: '#000', font: 'italic 37px "Liberation Serif"', align: 'center', verticalAlign: 'middle' }
  }]
});
</script>
</body>
</html>
